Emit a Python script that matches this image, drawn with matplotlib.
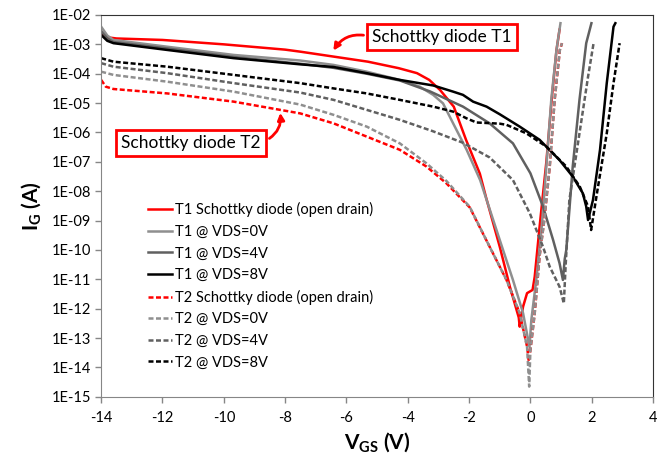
import numpy as np
import matplotlib.pyplot as plt

plt.rcParams['font.family'] = ['Lato', 'DejaVu Sans']
plt.rcParams['mathtext.fontset'] = 'custom'
plt.rcParams['mathtext.rm'] = 'Lato'
plt.rcParams['mathtext.bf'] = 'Lato:bold'
plt.rcParams['axes.unicode_minus'] = False

# データ (VGS [V], log10(IG [A])) -- 図から読み取った値
t1_sd_v = [-14.0, -13.8, -13.5, -12.0, -10.0, -8.0, -7.5, -6.4, -5.3, -4.3, -3.7, -3.3, -2.95, -2.5, -2.1,
           -1.65, -1.45, -1.0, -0.67, -0.38, -0.35, -0.24, -0.11, 0.07, 0.14, 0.30, 0.52, 0.70, 0.85, 0.95]
t1_sd_log = [-2.62, -2.76, -2.80, -2.85, -3.00, -3.18, -3.25, -3.42, -3.59, -3.81, -3.98, -4.21, -4.55, -5.12, -6.25,
             -7.40, -8.20, -9.89, -11.25, -12.3, -12.61, -11.93, -11.47, -11.36, -10.91, -9.2, -7.0, -4.8, -3.2, -2.5]

t1_0v_v = [-14.0, -13.8, -13.6, -11.85, -9.68, -7.51, -6.42, -5.34, -4.26, -3.61, -3.17, -2.85, -2.52, -2.08,
           -1.64, -1.0, -0.57, -0.24, -0.03, 0.03, 0.19, 0.36, 0.52, 0.68, 0.85, 0.98]
t1_0v_log = [-2.40, -2.70, -2.85, -3.08, -3.36, -3.55, -3.70, -3.93, -4.21, -4.44, -4.72, -5.01, -5.69, -6.59,
             -7.62, -9.66, -11.02, -12.15, -13.3, -12.38, -11.02, -9.32, -7.16, -4.89, -3.19, -2.28]

t1_4v_v = [-14.0, -13.8, -13.6, -11.85, -9.68, -7.51, -6.42, -5.34, -4.26, -3.28, -2.20, -1.33, -0.57, 0.0,
           0.41, 0.74, 0.95, 1.06, 1.12, 1.17, 1.38, 1.60, 1.82, 1.99]
t1_4v_log = [-2.55, -2.80, -2.92, -3.14, -3.43, -3.66, -3.80, -4.00, -4.23, -4.60, -5.12, -5.69, -6.37, -7.39,
             -8.52, -9.66, -10.45, -11.02, -10.3, -10.0, -7.16, -4.89, -2.96, -2.28]

t1_8v_v = [-14.0, -13.8, -13.6, -11.85, -9.68, -7.51, -6.42, -5.34, -4.26, -3.17, -2.52, -2.20, -1.87, -1.43,
           -1.0, -0.35, 0.30, 0.95, 1.38, 1.71, 1.82, 1.88, 2.04, 2.27, 2.49, 2.71, 2.77]
t1_8v_log = [-2.68, -2.88, -2.96, -3.19, -3.47, -3.68, -3.77, -3.98, -4.21, -4.40, -4.61, -4.72, -4.95, -5.12,
             -5.38, -5.80, -6.25, -6.94, -7.50, -8.07, -8.52, -8.98, -8.30, -6.59, -4.32, -2.40, -2.28]

t2_sd_v = [-14.0, -13.85, -13.6, -11.85, -9.68, -7.51, -6.42, -5.34, -4.26, -3.39, -2.74, -1.98, -1.33, -0.78,
           -0.35, -0.11, -0.05, 0.0, 0.14, 0.30, 0.45, 0.63, 0.79, 0.96, 1.03]
t2_sd_log = [-4.21, -4.44, -4.52, -4.67, -4.95, -5.35, -5.69, -6.14, -6.59, -7.16, -7.73, -8.55, -9.89, -11.02,
             -12.15, -13.29, -13.8, -13.4, -12.15, -10.2, -9.0, -7.16, -4.89, -3.19, -2.96]

t2_0v_v = [-14.0, -13.6, -11.85, -9.68, -7.51, -6.42, -5.34, -4.26, -3.39, -2.74, -1.98, -1.33, -0.78,
           -0.35, -0.11, -0.04, 0.0, 0.14, 0.30, 0.45, 0.63, 0.79, 0.96, 1.03]
t2_0v_log = [-3.93, -4.04, -4.27, -4.61, -5.05, -5.40, -5.80, -6.37, -7.05, -7.65, -8.53, -9.89, -11.02,
             -12.15, -13.29, -14.65, -13.4, -12.15, -10.2, -9.0, -7.16, -4.89, -3.19, -2.96]

t2_4v_v = [-14.0, -13.6, -11.85, -9.68, -7.51, -6.42, -5.34, -4.26, -3.2, -2.2, -1.33, -0.57, -0.02, 0.41,
           0.63, 0.95, 1.09, 1.15, 1.27, 1.60, 1.88, 2.06]
t2_4v_log = [-3.64, -3.76, -3.98, -4.32, -4.64, -4.89, -5.23, -5.57, -5.95, -6.35, -6.85, -7.62, -8.75, -9.89,
             -10.57, -11.25, -11.82, -10.5, -8.30, -6.03, -4.10, -2.96]

t2_8v_v = [-14.0, -13.6, -11.85, -9.68, -7.51, -6.42, -5.34, -4.26, -3.17, -2.52, -2.08, -1.76, -1.0, -0.78,
           -0.13, 0.52, 1.17, 1.61, 1.88, 1.98, 2.17, 2.49, 2.71, 2.91]
t2_8v_log = [-3.47, -3.59, -3.76, -4.04, -4.32, -4.50, -4.67, -4.89, -5.12, -5.29, -5.52, -5.66, -5.70, -5.74,
             -6.03, -6.48, -7.16, -7.84, -8.52, -9.32, -8.07, -6.03, -4.32, -2.96]

labels = ["T1 Schottky diode (open drain)", "T1 @ VDS=0V", "T1 @ VDS=4V", "T1 @ VDS=8V",
          "T2 Schottky diode (open drain)", "T2 @ VDS=0V", "T2 @ VDS=4V", "T2 @ VDS=8V"]

red = '#ff0000'
light = '#8f8f8f'
mid = '#606060'
dark = '#000000'
dash = (0, (2, 1))

fig = plt.figure(figsize=(6.57, 4.68), dpi=100)
ax = fig.add_axes([0.154, 0.152, 0.840, 0.816])

ax.plot(t1_sd_v, 10 ** np.array(t1_sd_log), color=red, lw=1.8, label=labels[0])
ax.plot(t1_0v_v, 10 ** np.array(t1_0v_log), color=light, lw=1.8, label=labels[1])
ax.plot(t1_4v_v, 10 ** np.array(t1_4v_log), color=mid, lw=1.8, label=labels[2])
ax.plot(t1_8v_v, 10 ** np.array(t1_8v_log), color=dark, lw=1.8, label=labels[3])
ax.plot(t2_sd_v, 10 ** np.array(t2_sd_log), color=red, lw=1.8, ls=dash, label=labels[4])
ax.plot(t2_0v_v, 10 ** np.array(t2_0v_log), color=light, lw=1.8, ls=dash, label=labels[5])
ax.plot(t2_4v_v, 10 ** np.array(t2_4v_log), color=mid, lw=1.8, ls=dash, label=labels[6])
ax.plot(t2_8v_v, 10 ** np.array(t2_8v_log), color=dark, lw=1.8, ls=dash, label=labels[7])

ax.set_yscale('log')
ax.set_ylim(1e-15, 1e-2)
ax.set_xlim(-14, 4)
yt = [10.0 ** -k for k in range(2, 16)]
ax.set_yticks(yt)
ax.set_yticklabels(["1E-%02d" % k for k in range(2, 16)])
ax.minorticks_off()
ax.set_xticks(range(-14, 5, 2))
ax.tick_params(axis='both', direction='out', length=4, color='#868686', labelsize=10.5, width=1)
ax.tick_params(axis='x', pad=6)

for s in ['left', 'bottom']:
    ax.spines[s].set_color('#868686')
for s in ['top', 'right']:
    ax.spines[s].set_color('#333333')
    ax.spines[s].set_linewidth(0.8)

ax.set_xlabel(r'$\mathbf{V_{GS}}$ (V)', fontsize=15, fontweight='bold', labelpad=4)
ax.set_ylabel(r'$\mathbf{I_G}$ (A)', fontsize=15, fontweight='bold', labelpad=6)

ax.legend(loc='upper left', bbox_to_anchor=(0.075, 0.525), frameon=False, fontsize=10.5,
          handlelength=1.6, handletextpad=0.2, labelspacing=0.52, borderaxespad=0)

# 注釈
ax.annotate("Schottky diode T1", xy=(0.418, 0.9005), xycoords='axes fraction',
            xytext=(0.618, 0.942), textcoords='axes fraction', fontsize=12.5,
            ha='center', va='center',
            bbox=dict(boxstyle='square,pad=0.3', fc='white', ec=red, lw=2),
            arrowprops=dict(arrowstyle='-|>', color=red, lw=2, mutation_scale=10,
                            connectionstyle='arc3,rad=0.4', relpos=(0, 0.5)))
ax.annotate("Schottky diode T2", xy=(0.324, 0.751), xycoords='axes fraction',
            xytext=(0.163, 0.665), textcoords='axes fraction', fontsize=12.5,
            ha='center', va='center',
            bbox=dict(boxstyle='square,pad=0.3', fc='white', ec=red, lw=2),
            arrowprops=dict(arrowstyle='-|>', color=red, lw=2, mutation_scale=10,
                            connectionstyle='arc3,rad=0.4', relpos=(1, 0.5)))

fig.savefig('out.png', dpi=100)
